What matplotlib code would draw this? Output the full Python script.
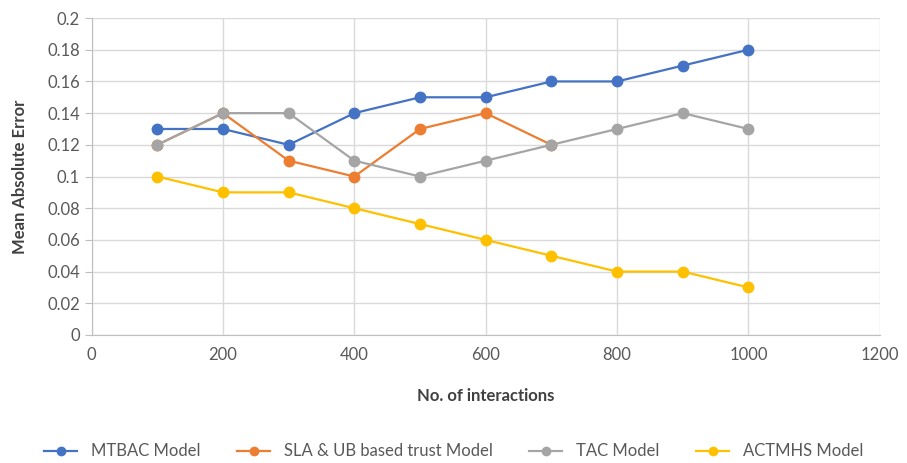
import matplotlib.pyplot as plt

plt.rcParams['font.family'] = ['Lato', 'DejaVu Sans']

interactions = [100, 200, 300, 400, 500, 600, 700, 800, 900, 1000]
mtbac = [0.13, 0.13, 0.12, 0.14, 0.15, 0.15, 0.16, 0.16, 0.17, 0.18]
sla_ub = [0.12, 0.14, 0.11, 0.10, 0.13, 0.14, 0.12]
tac = [0.12, 0.14, 0.14, 0.11, 0.10, 0.11, 0.12, 0.13, 0.14, 0.13]
actmhs = [0.10, 0.09, 0.09, 0.08, 0.07, 0.06, 0.05, 0.04, 0.04, 0.03]

series = [
    ('MTBAC Model', interactions, mtbac, '#4472C4'),
    ('SLA & UB based trust Model', interactions[:len(sla_ub)], sla_ub, '#ED7D31'),
    ('TAC Model', interactions, tac, '#A5A5A5'),
    ('ACTMHS Model', interactions, actmhs, '#FFC000'),
]

fig = plt.figure(figsize=(9.07, 4.63), dpi=100)
ax = fig.add_axes([0.101, 0.2765, 0.869, 0.6845])

for name, xs, ys, col in series:
    ax.plot(xs, ys, color=col, lw=1.6, marker='o', ms=7.5, label=name)

ax.set_xlim(0, 1200)
ax.set_ylim(0, 0.2)
ax.set_xticks(range(0, 1201, 200))
ax.set_yticks([i / 100 for i in range(0, 21, 2)])
ax.set_yticklabels(['0', '0.02', '0.04', '0.06', '0.08', '0.1', '0.12',
                    '0.14', '0.16', '0.18', '0.2'])
ax.grid(True, color='#D9D9D9', lw=1)
ax.set_axisbelow(True)
for s in ['top', 'right']:
    ax.spines[s].set_visible(False)
for s in ['left', 'bottom']:
    ax.spines[s].set_color('#BFBFBF')
ax.tick_params(axis='y', colors='#BFBFBF', labelcolor='#595959', labelsize=12, length=5)
ax.tick_params(axis='x', length=0, labelcolor='#595959', labelsize=12, pad=9)

ax.set_xlabel('No. of interactions', fontsize=12, fontweight='bold', color='#404040', labelpad=18)
ax.set_ylabel('Mean Absolute Error', fontsize=12, fontweight='bold', color='#404040', labelpad=14)

fig.legend(loc='center', bbox_to_anchor=(0.5, 0.025), ncol=4, frameon=False,
           fontsize=12, labelcolor='#595959', handlelength=2.0, columnspacing=2.2,
           markerscale=0.8)

fig.savefig('out.png', dpi=100)
